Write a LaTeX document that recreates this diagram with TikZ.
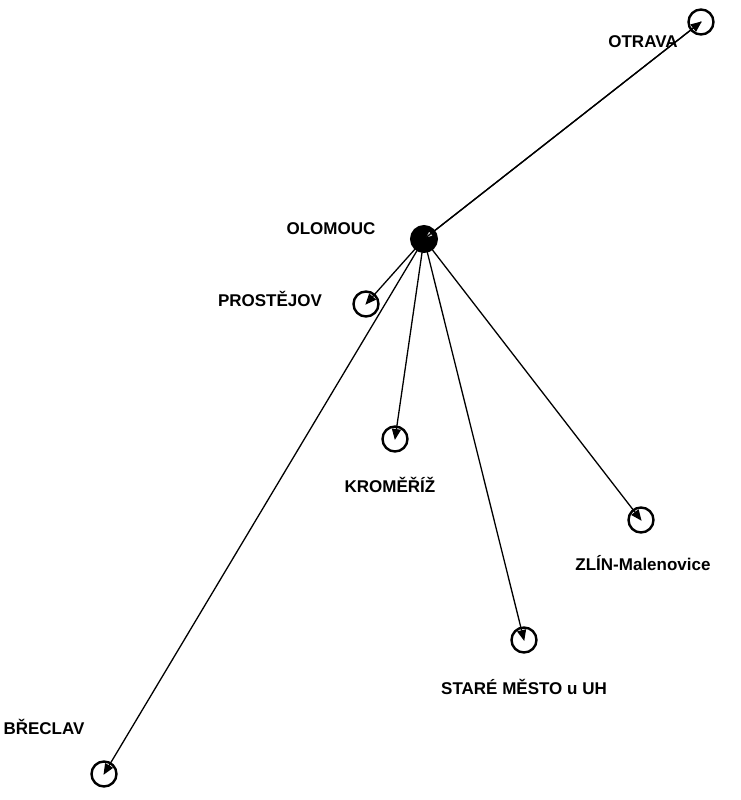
\documentclass[tikz,border=0pt]{standalone}
\usepackage{fontspec}
\setmainfont{Liberation Sans}
\usetikzlibrary{arrows.meta}
\tikzset{
    town/.style={circle, draw=black, line width=2.4pt, fill=white, minimum size=25pt, inner sep=0pt},
    hub/.style={circle, draw=black, line width=3pt, fill=black, minimum size=25pt, inner sep=0pt},
    townlabel/.style={font=\fontsize{17}{19}\selectfont\bfseries},
    link/.style={line width=1.3pt, -{Triangle[length=11pt,width=9pt]}, shorten >=-1pt}
}
\begin{document}
\begin{tikzpicture}[x=1pt,y=-1pt]
\useasboundingbox (0,0) rectangle (741,800);
% places
\node[hub] (olomouc) at (424,239) {};
\node[town] (otrava) at (701,22) {};
\node[town] (prostejov) at (366,304) {};
\node[town] (kromeriz) at (395,439) {};
\node[town] (zlin) at (641,520) {};
\node[town] (stare) at (524,640) {};
\node[town] (breclav) at (104,774) {};
% labels
\node[townlabel] at (643,42) {OTRAVA};
\node[townlabel] at (331,229) {OLOMOUC};
\node[townlabel] at (270,299) {PROSTĚJOV};
\node[townlabel] at (390,485) {KROMĚŘÍŽ};
\node[townlabel] at (643,563) {ZLÍN-Malenovice};
\node[townlabel] at (524,687) {STARÉ MĚSTO u UH};
\node[townlabel] at (44,727) {BŘECLAV};
% links
\draw[link, -{Triangle[length=11pt,width=9pt,fill=gray!30]}] (otrava.center) -- (olomouc.center);
\foreach \t in {otrava,prostejov,kromeriz,zlin,stare,breclav}
    \draw[link] (olomouc.center) -- (\t.center);
\end{tikzpicture}
\end{document}
